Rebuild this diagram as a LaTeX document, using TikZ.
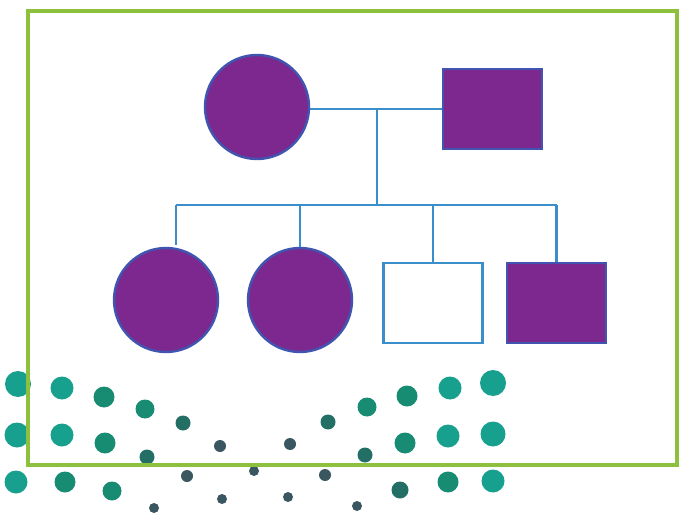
\documentclass[tikz,border=0pt]{standalone}
\begin{document}
\begin{tikzpicture}[x=1pt,y=-1pt,
  affected/.style={fill=pedpurple,draw=pedoutline,line width=2.4pt,inner sep=0pt},
  female/.style={circle,minimum size=104pt},
  male/.style={rectangle,minimum width=99pt,minimum height=80pt},
  unaffected/.style={fill=white,draw=pedline,line width=2.2pt,inner sep=0pt},
  link/.style={draw=pedline,line width=2.2pt},
  frame/.style={draw=framegreen,line width=3.2pt}]
\definecolor{pedpurple}{HTML}{7C288E}
\definecolor{pedoutline}{HTML}{4054B0}
\definecolor{pedline}{HTML}{3A8FCB}
\definecolor{framegreen}{HTML}{8DC03C}
\definecolor{dotA}{HTML}{17A08E}
\definecolor{dotB}{HTML}{178C72}
\definecolor{dotC}{HTML}{236F66}
\definecolor{dotD}{HTML}{3A5660}
\useasboundingbox (0,0) rectangle (679,518);
\fill[white] (0,0) rectangle (679,518);
% decorative dots
\foreach \x/\y/\r in {18/384/13, 62/388/11.5, 104/397/10.5, 145/409/9.5, 183/423/7.5,
  328/422/7.5, 367/407/9.5, 407/396/10.5, 450/388/11.5, 493/383/13,
  17/435/12.5, 62/435/11.5, 105/443/10.5, 147/457/7.5, 220/446/6, 290/444/6,
  365/455/7.5, 405/443/10.5, 448/436/11.5, 493/434/12.5,
  16/482/11.5, 65/482/10.5, 112/491/9.5, 154/508/5, 187/476/6, 222/499/5,
  254/471/5, 288/497/5, 325/475/6, 357/506/5, 400/490/8.5, 448/482/10.5, 493/481/11.5}{
  \pgfmathsetmacro{\rr}{\r}
  \ifdim\rr pt>11pt \fill[dotA] (\x,\y) circle (\r);
  \else\ifdim\rr pt>9pt \fill[dotB] (\x,\y) circle (\r);
  \else\ifdim\rr pt>6.5pt \fill[dotC] (\x,\y) circle (\r);
  \else \fill[dotD] (\x,\y) circle (\r);
  \fi\fi\fi
}
% frame
\node[frame,rectangle,minimum width=649pt,minimum height=454pt,inner sep=0pt] (frm) at (352.5,238) {};
% parents
\node[affected,female] (mother) at (257,107) {};
\node[affected,male] (father) at (492.5,109) {};
% children
\node[affected,female] (c1) at (166,300) {};
\node[affected,female] (c2) at (300,300) {};
\node[unaffected,male] (c3) at (433,303) {};
\node[affected,male] (c4) at (556.5,303) {};
% connectors
\coordinate (mj) at (377,109);
\coordinate (sb) at (377,205);
\coordinate (d1) at (176,205);
\coordinate (d2) at (300,205);
\coordinate (d3) at (433,205);
\coordinate (d4) at (556.5,205);
\draw[link] (mother.east |- mj) -- (father.west |- mj);
\draw[link] (mj) -- (sb);
\draw[link] (d1) -- (d4);
\draw[link] (d1) -- ([yshift=2pt]d1 |- c1.north);
\draw[link] (d2) -- (c2.north);
\draw[link] (d3) -- (c3.north);
\draw[link] (d4) -- (c4.north);
\end{tikzpicture}
\end{document}
